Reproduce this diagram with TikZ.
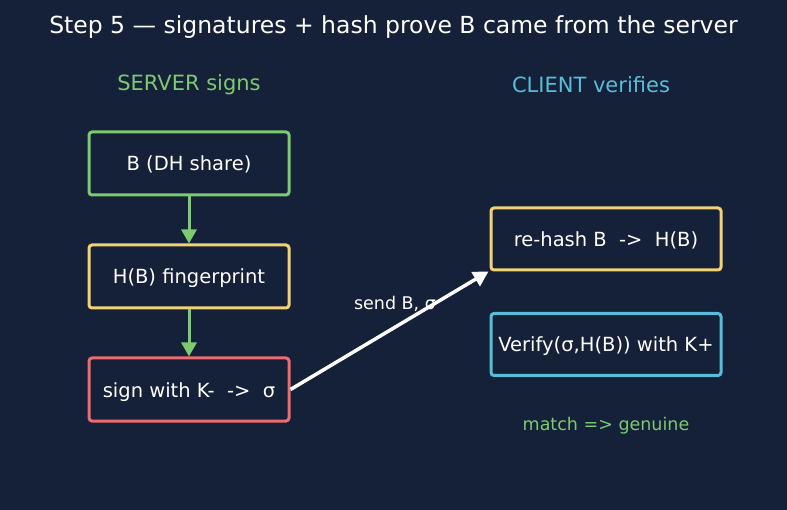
\documentclass[tikz,border=0pt]{standalone}
\usepackage{fontspec}
\setmainfont{DejaVu Sans}
\usetikzlibrary{arrows.meta}
\definecolor{bg}{HTML}{152039}
\definecolor{cgreen}{HTML}{7CCB6E}
\definecolor{cyellow}{HTML}{F1D374}
\definecolor{cred}{HTML}{EE6B6E}
\definecolor{ccyan}{HTML}{55BFD9}
\begin{document}
\begin{tikzpicture}[x=1pt,y=-1pt,
  box/.style={draw, line width=3pt, rounded corners=3pt, fill=bg, text=white,
    font=\fontsize{19.5}{23}\selectfont, inner sep=0pt, text height=17pt, text depth=2pt},
  lbox/.style={box, minimum width=200pt, minimum height=63pt},
  rbox/.style={box, minimum width=230pt, minimum height=62pt},
  garrow/.style={draw=cgreen, line width=3pt, -{Triangle[length=14pt,width=15pt]}},
  warrow/.style={draw=white, line width=3.5pt, -{Triangle[length=15pt,width=16pt]}}
]
\useasboundingbox (0,0) rectangle (787,510);
\fill[bg] (0,0) rectangle (787,510);
\node[text=white, font=\fontsize{23.5}{28}\selectfont] (title) at (393.5,27) {Step 5 — signatures + hash prove B came from the server};
\node[text=cgreen, font=\fontsize{21}{25}\selectfont] (shead) at (189,84.5) {SERVER signs};
\node[text=ccyan, font=\fontsize{21}{25}\selectfont] (chead) at (591,84.5) {CLIENT verifies};

\node[lbox, draw=cgreen] (b) at (189,163.5) {B (DH share)};
\node[lbox, draw=cyellow] (h) at (189,276.5) {H(B) fingerprint};
\node[lbox, draw=cred] (s) at (189,389.5) {sign with K-\ \ ->\ \ σ};

\node[rbox, draw=cyellow] (r) at (606,239) {re-hash B\ \ ->\ \ H(B)};
\node[rbox, draw=ccyan] (v) at (606,344.5) {Verify(σ,H(B)) with K+};
\node[text=cgreen, font=\fontsize{17.5}{21}\selectfont] (m) at (606,425.5) {match => genuine};

\node[text=white, font=\fontsize{17.5}{21}\selectfont] (lbl) at (395,303.5) {send B, σ};

\draw[garrow] (b.south) -- (h.north);
\draw[garrow] (h.south) -- (s.north);
\draw[warrow] (s.east) -- ([xshift=-1pt]r.south west);
\end{tikzpicture}
\end{document}
